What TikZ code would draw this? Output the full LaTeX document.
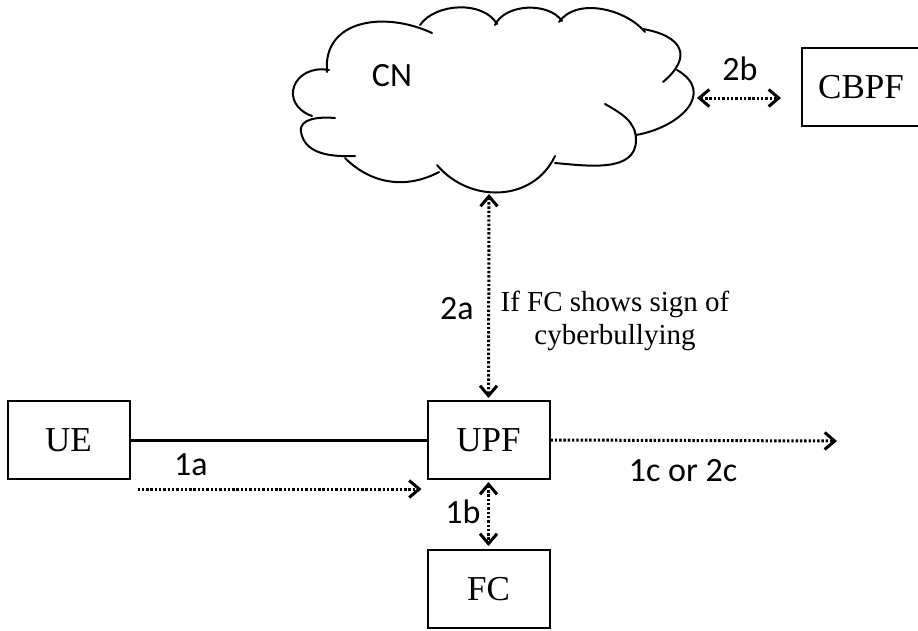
\documentclass[tikz,border=0pt]{standalone}
\usepackage{fontspec}
\setmainfont{Liberation Serif}
\newfontfamily\labfont{Carlito}
\usetikzlibrary{arrows.meta,calc}
\tikzset{barbtip/.tip={Straight Barb[length=10pt,width=17pt,line width=3pt,sharp]}}
\begin{document}
\begin{tikzpicture}[x=1pt,y=1pt,
  box/.style={draw,line width=2pt,minimum width=122pt,minimum height=78pt,inner sep=0pt,font=\fontsize{35}{40}\selectfont},
  lbl/.style={font=\labfont\fontsize{34}{38}\selectfont,inner sep=0pt},
  note/.style={font=\fontsize{29}{33}\selectfont,inner sep=0pt,align=center},
  dotline/.style={line width=3pt,dash pattern=on 2.4pt off 1.9pt},
  oneway/.style={dotline,-{barbtip}},
  twoway/.style={dotline,{barbtip}-{barbtip}},
  cloudline/.style={line width=2pt,line cap=round}]
\clip (0,0) rectangle (918,-630);
\fill[white] (0,0) rectangle (918,-630);

% cloud CN
\begin{scope}[cloudline]
\draw (327,-72) to[out=95,in=155,looseness=1.2] (432,-33);
\draw (420,-25) to[out=55,in=120,looseness=0.9] (497,-24);
\draw (495,-25) to[out=65,in=125,looseness=0.9] (562,-21);
\draw (559,-22) to[out=55,in=130,looseness=0.9] (645,-32);
\draw (643,-29) to[out=-10,in=40,looseness=1.8] (663,-82);
\draw (677,-70) to[out=-30,in=10,looseness=1.5] (636,-135);
\draw (605,-104) to[out=-30,in=90] (636,-140) to[out=-90,in=-5] (555,-163);
\draw (555,-156) to[out=-115,in=-50,looseness=1.1] (437,-165);
\draw (439,-172) to[out=-152,in=-45] (345,-158);
\draw (355,-156) to[out=182,in=-80] (301,-132) to[out=100,in=175] (335,-118);
\draw (312,-116) to[out=160,in=170,looseness=1.9] (329,-70);
\end{scope}
\node[lbl] (cn) at (392,-76) {CN};

% boxes
\node[box] (ue) at (68.5,-440) {UE};
\node[box] (upf) at (488.5,-440) {UPF};
\node[box] (fc) at (488.5,-589) {FC};
\node[box,anchor=west,minimum width=130pt] (cbpf) at (801,-87) {\hspace*{-12pt}CBPF};

% coordinates for free ends
\coordinate (cnb) at (489,-194);
\coordinate (cnr) at (697,-98);
\coordinate (oute) at (837,-441);

% connectors
\draw[line width=3pt] (ue.east) -- (upf.west);
\draw[oneway] ($(ue.south east)+(7,-9)$) -- ($(upf.south west)+(-5,-9)$);
\draw[twoway,shorten <=2pt,shorten >=3pt] (upf.south) -- (fc.north);
\draw[twoway,shorten >=2pt] (cnb) -- (upf.north);
\draw[oneway] (upf.east) -- (oute);
\draw[twoway] (cnr) -- ($(cbpf.west)+(-20,-11)$);

% labels
\node[lbl] (l1a) at (191,-465) {1a};
\node[lbl] (l1b) at (463,-512) {1b};
\node[lbl] (l2a) at (457,-309) {2a};
\node[lbl] (l1c) at (683,-471) {1c or 2c};
\node[lbl] (l2b) at (740,-69) {2b};
\node[note,anchor=north] (cond) at (615,-291) {If FC shows sign of\\cyberbullying};
\end{tikzpicture}
\end{document}
